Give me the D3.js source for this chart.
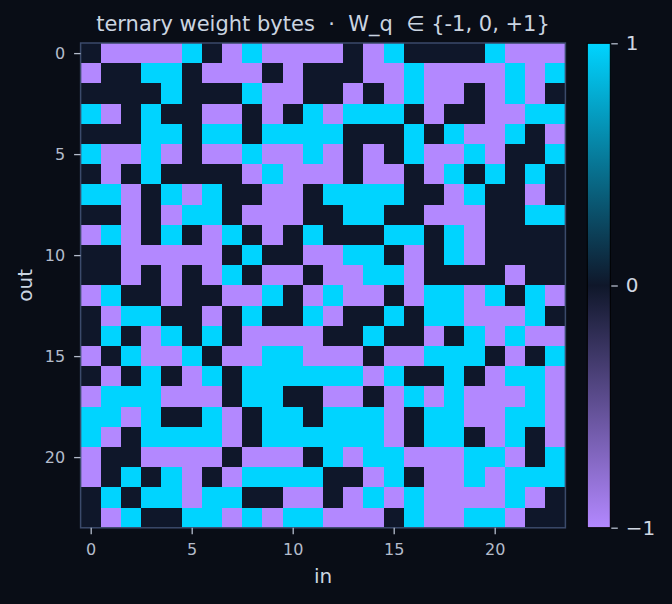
<!DOCTYPE html>
<html>
<head>
<meta charset="utf-8">
<script src="https://cdn.jsdelivr.net/npm/d3@7"></script>
<style>
  html, body { margin: 0; padding: 0; background: #090d16; }
  svg { display: block; font-family: "DejaVu Sans", sans-serif; }
</style>
</head>
<body>
<svg id="chart" width="672" height="604"></svg>
<script>
// ternary weights, rows = out, cols = in
const rows = [
  [0,-1,-1,-1,-1,1,0,-1,1,-1,-1,-1,-1,0,-1,1,0,0,0,0,1,-1,-1,-1],
  [-1,0,0,1,1,0,-1,-1,-1,0,-1,0,0,0,-1,-1,1,-1,-1,-1,-1,1,-1,1],
  [0,0,0,0,1,0,0,0,1,-1,-1,0,0,-1,0,-1,1,-1,-1,0,-1,1,-1,0],
  [1,-1,0,1,0,0,-1,-1,0,-1,0,1,-1,1,1,1,0,-1,0,0,-1,-1,1,1],
  [0,0,0,1,1,0,1,1,0,1,1,1,1,0,0,0,1,0,1,-1,-1,1,0,-1],
  [1,-1,-1,1,-1,0,-1,-1,1,-1,-1,1,-1,0,-1,0,1,-1,-1,1,-1,0,0,1],
  [0,-1,0,1,0,0,0,0,-1,1,-1,-1,-1,0,-1,-1,0,-1,1,0,1,0,1,0],
  [1,1,-1,0,1,-1,1,0,0,-1,-1,0,1,1,1,1,0,0,-1,1,0,0,-1,0],
  [0,0,-1,0,-1,1,1,0,-1,-1,-1,0,0,1,1,0,0,-1,-1,-1,0,0,1,1],
  [-1,1,-1,0,1,0,-1,1,0,-1,0,1,0,0,0,1,1,0,1,-1,0,0,0,0],
  [0,0,-1,-1,-1,-1,-1,0,1,0,0,-1,-1,1,1,0,-1,0,1,-1,0,0,0,0],
  [0,0,-1,0,-1,0,-1,1,0,-1,-1,0,-1,-1,1,1,-1,0,0,0,0,-1,0,0],
  [-1,1,0,0,-1,0,0,-1,-1,1,0,-1,1,-1,-1,0,-1,1,1,-1,1,0,1,-1],
  [0,-1,1,1,0,0,-1,0,1,0,0,1,-1,0,0,1,0,1,1,-1,-1,-1,1,0],
  [0,1,0,-1,1,0,1,0,-1,-1,-1,-1,0,0,1,0,0,-1,0,1,-1,1,-1,-1],
  [-1,0,1,-1,-1,1,0,-1,-1,1,1,-1,-1,-1,0,-1,-1,1,1,1,0,-1,0,1],
  [0,-1,0,1,0,-1,1,0,1,1,1,1,1,1,-1,1,0,0,1,0,-1,1,1,-1],
  [-1,1,1,1,-1,-1,-1,0,1,1,0,0,-1,-1,0,-1,1,-1,1,-1,-1,-1,1,-1],
  [1,1,-1,1,0,0,1,-1,0,1,1,0,1,1,1,-1,0,1,1,-1,-1,1,1,-1],
  [1,-1,0,1,1,1,1,-1,0,1,1,1,1,1,1,-1,0,1,1,0,-1,1,0,-1],
  [-1,0,0,-1,-1,-1,-1,0,-1,-1,-1,0,1,-1,1,1,-1,-1,-1,1,1,-1,0,1],
  [-1,0,1,0,1,-1,0,-1,1,1,1,1,0,0,-1,1,0,-1,-1,1,-1,1,1,1],
  [0,1,0,1,1,-1,1,1,0,0,-1,-1,0,-1,1,-1,1,-1,-1,-1,-1,1,-1,0],
  [0,-1,1,0,0,1,1,-1,1,-1,1,1,-1,-1,-1,0,1,-1,-1,1,1,-1,0,0]
];
const axisTicks = [0, 5, 10, 15, 20];
const cbarTicks = [-1, 0, 1];
const titleText = "ternary weight bytes  \u00b7  W_q  \u2208 {-1, 0, +1}";

const svg = d3.select("#chart");
const W = 672, H = 604;
const plot = { left: 80.6, top: 43, right: 565.4, bottom: 527.8 };
const cbar = { left: 587.3, right: 610.3, top: 43.3, bottom: 527.7 };

const nCols = rows[0].length, nRows = rows.length;
const x = d3.scaleBand().domain(d3.range(nCols)).range([plot.left, plot.right]).padding(0);
const y = d3.scaleBand().domain(d3.range(nRows)).range([plot.top, plot.bottom]).padding(0);

const color = d3.scaleLinear()
  .domain([-1, 0, 1])
  .range(["#b388ff", "#0f172a", "#00d4ff"])
  .interpolate(d3.interpolateRgb);

svg.append("rect").attr("width", W).attr("height", H).attr("fill", "#090d16");

const cells = [];
rows.forEach((r, i) => r.forEach((v, j) => cells.push({ i, j, v })));

svg.append("g").selectAll("rect")
  .data(cells)
  .join("rect")
  .attr("x", d => x(d.j))
  .attr("y", d => y(d.i))
  .attr("width", x.bandwidth() + 0.5)
  .attr("height", y.bandwidth() + 0.5)
  .attr("fill", d => color(d.v))
  .attr("shape-rendering", "crispEdges");

// frame
svg.append("rect")
  .attr("x", plot.left).attr("y", plot.top)
  .attr("width", plot.right - plot.left).attr("height", plot.bottom - plot.top)
  .attr("fill", "none").attr("stroke", "#3b4a6b").attr("stroke-width", 1.5);

// axes (tick at band centre)
const xPos = d3.scaleLinear().domain([-0.5, nCols - 0.5]).range([plot.left, plot.right]);
const yPos = d3.scaleLinear().domain([-0.5, nRows - 0.5]).range([plot.top, plot.bottom]);

const tickColor = "#b4bccb";
function styleAxis(g) {
  g.select(".domain").remove();
  g.selectAll(".tick line").attr("stroke", tickColor).attr("stroke-width", 1.3);
  g.selectAll(".tick text").attr("fill", tickColor).attr("font-family", "DejaVu Sans").attr("font-size", 16);
}

svg.append("g")
  .attr("transform", `translate(0,${plot.bottom})`)
  .call(d3.axisBottom(xPos).tickValues(axisTicks).tickSize(6.5).tickPadding(9.5))
  .call(styleAxis);

svg.append("g")
  .attr("transform", `translate(${plot.left},0)`)
  .call(d3.axisLeft(yPos).tickValues(axisTicks).tickSize(6.5).tickPadding(9))
  .call(styleAxis);

// labels
svg.append("text")
  .attr("x", (plot.left + plot.right) / 2).attr("y", 583)
  .attr("text-anchor", "middle").attr("fill", "#cbd5e1")
  .attr("font-size", 20).text("in");

svg.append("text")
  .attr("transform", `translate(31.5,${(plot.top + plot.bottom) / 2}) rotate(-90)`)
  .attr("text-anchor", "middle").attr("fill", "#cbd5e1")
  .attr("font-size", 20).text("out");

svg.append("text")
  .attr("x", 323).attr("y", 31)
  .attr("text-anchor", "middle").attr("fill", "#cbd5e1")
  .attr("font-size", 21).attr("xml:space", "preserve")
  .style("white-space", "pre")
  .text(titleText);

// colour bar
const defs = svg.append("defs");
const grad = defs.append("linearGradient")
  .attr("id", "cbar-grad").attr("x1", 0).attr("y1", 1).attr("x2", 0).attr("y2", 0);
cbarTicks.forEach(t => {
  grad.append("stop")
    .attr("offset", (t + 1) / 2)
    .attr("stop-color", color(t));
});

svg.append("rect")
  .attr("x", cbar.left).attr("y", cbar.top)
  .attr("width", cbar.right - cbar.left).attr("height", cbar.bottom - cbar.top)
  .attr("fill", "url(#cbar-grad)")
  .attr("stroke", "#000").attr("stroke-width", 1);

const cScale = d3.scaleLinear().domain([-1, 1]).range([cbar.bottom, cbar.top]);
svg.append("g")
  .attr("transform", `translate(${cbar.right + 1},0)`)
  .call(d3.axisRight(cScale).tickValues(cbarTicks).tickSize(6.5).tickPadding(8).tickFormat(d3.format("d")))
  .call(g => {
    g.select(".domain").remove();
    g.selectAll(".tick line").attr("stroke", tickColor).attr("stroke-width", 1.3);
    g.selectAll(".tick text").attr("fill", "#d0d7e2").attr("font-family", "DejaVu Sans").attr("font-size", 20);
  });
</script>
</body>
</html>
